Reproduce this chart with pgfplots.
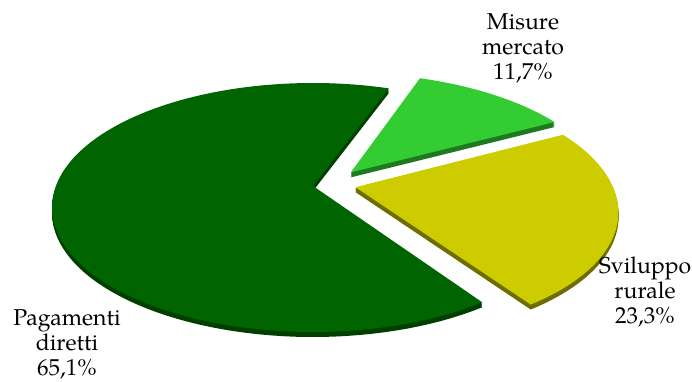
\documentclass[border=0pt]{standalone}
\usepackage{pgfplots}
\pgfplotsset{compat=1.18}
\usepackage{fontspec}
\setmainfont{TeX Gyre Pagella}
\definecolor{pdtop}{HTML}{006400}
\definecolor{pdside}{HTML}{003F00}
\definecolor{mmtop}{HTML}{33CC33}
\definecolor{mmside}{HTML}{1F7A1F}
\definecolor{srtop}{HTML}{CCCC00}
\definecolor{srside}{HTML}{6E6E00}
% shares (percent)
\def\vPD{65.1}
\def\vMM{11.7}
\def\vSR{23.3}
\pgfmathsetmacro{\aStart}{70}
\pgfmathsetmacro{\aMM}{\aStart-3.6*\vMM}
\pgfmathsetmacro{\aSR}{\aMM-3.6*\vSR}
\pgfmathsetmacro{\aPD}{\aStart+3.6*\vPD}
\newcommand{\slice}[6]{%
 \addplot[draw=none, fill=#1, samples at={-1,0,1,...,100,101}, variable=\s]
 ({px(#4+rr(\s)*cos(#2+(#3-#2)*\s/100), #5+rr(\s)*sin(#2+(#3-#2)*\s/100))},
  {py(#4+rr(\s)*cos(#2+(#3-#2)*\s/100), #5+rr(\s)*sin(#2+(#3-#2)*\s/100))-#6});
}
\begin{document}
\begin{tikzpicture}
\begin{axis}[width=346pt,height=190.5pt,scale only axis,
  xmin=0,xmax=692,ymin=0,ymax=381,hide axis,clip=false,
  declare function={
    px(\u,\v)=313+257.1*\u/(1+0.1727*\v);
    py(\u,\v)=195+120.8*\v/(1+0.1727*\v);
    rr(\s)=(\s<0||\s>100)?0:1;
  }]
\path (rel axis cs:0,0) rectangle (rel axis cs:1,1);
% Misure mercato
\slice{mmside}{\aStart}{\aMM}{0.150}{0.115}{5}
\slice{mmside}{\aStart}{\aMM}{0.150}{0.115}{4}
\slice{mmside}{\aStart}{\aMM}{0.150}{0.115}{3}
\slice{mmside}{\aStart}{\aMM}{0.150}{0.115}{2}
\slice{mmside}{\aStart}{\aMM}{0.150}{0.115}{1}
\slice{mmtop}{\aStart}{\aMM}{0.150}{0.115}{0}
% Sviluppo rurale
\slice{srside}{\aMM}{\aSR}{0.165}{-0.010}{5}
\slice{srside}{\aMM}{\aSR}{0.165}{-0.010}{4}
\slice{srside}{\aMM}{\aSR}{0.165}{-0.010}{3}
\slice{srside}{\aMM}{\aSR}{0.165}{-0.010}{2}
\slice{srside}{\aMM}{\aSR}{0.165}{-0.010}{1}
\slice{srtop}{\aMM}{\aSR}{0.165}{-0.010}{0}
% Pagamenti diretti
\slice{pdside}{\aStart}{\aPD}{0}{0}{5}
\slice{pdside}{\aStart}{\aPD}{0}{0}{4}
\slice{pdside}{\aStart}{\aPD}{0}{0}{3}
\slice{pdside}{\aStart}{\aPD}{0}{0}{2}
\slice{pdside}{\aStart}{\aPD}{0}{0}{1}
\slice{pdtop}{\aStart}{\aPD}{0}{0}{0}
\node[overlay,inner sep=0pt,align=center,font=\fontsize{11.5}{12.5}\selectfont] at (axis cs:523,333) {Misure\\mercato\\11,7\%};
\node[overlay,inner sep=0pt,align=center,font=\fontsize{11.5}{12.5}\selectfont] at (axis cs:645,89) {Sviluppo\\rurale\\23,3\%};
\node[overlay,inner sep=0pt,align=center,font=\fontsize{11.5}{12.5}\selectfont] at (axis cs:67,37) {Pagamenti\\diretti\\65,1\%};
\end{axis}
\end{tikzpicture}
\end{document}
